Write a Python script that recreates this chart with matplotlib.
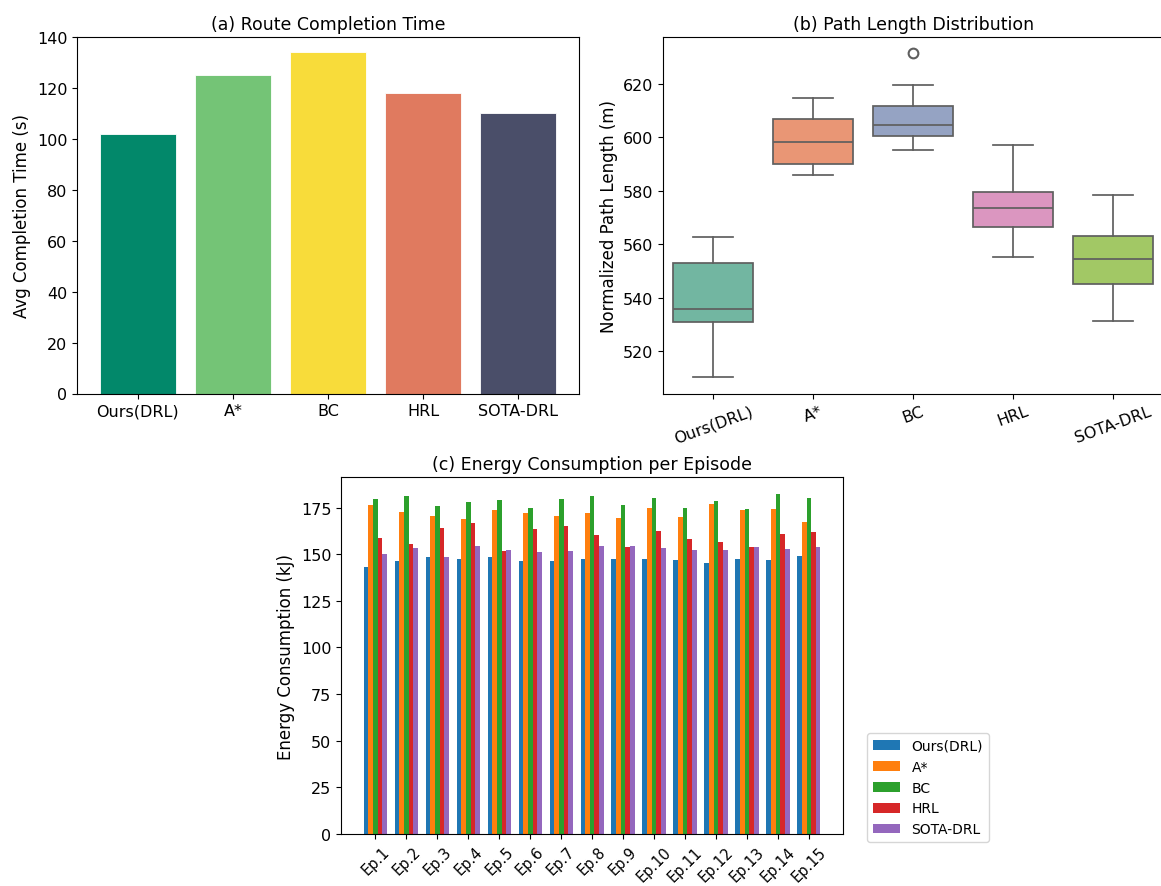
import numpy as np
import matplotlib
matplotlib.use("Agg")
import matplotlib.pyplot as plt
import colorsys
from matplotlib.colors import to_rgb

methods = ["Ours(DRL)", "A*", "BC", "HRL", "SOTA-DRL"]

# (a) average completion time
completion_time = [102, 125, 134, 118, 110]
bar_colors_a = ["#02886a", "#74c476", "#f8dc3a", "#e07a5f", "#4a4e69"]

# (b) box statistics: whislo, q1, med, q3, whishi
box_whislo = [510.1, 585.8, 595.4, 555.1, 531.3]
box_q1 = [531.0, 589.9, 600.6, 566.4, 544.9]
box_med = [535.8, 598.4, 604.8, 573.6, 554.3]
box_q3 = [552.9, 607.1, 611.8, 579.4, 563.0]
box_whishi = [562.6, 614.8, 619.5, 597.3, 578.4]
box_fliers = [[], [], [631.6], [], []]
set2 = ["#66c2a5", "#fc8d62", "#8da0cb", "#e78ac3", "#a6d854"]

# (c) energy consumption per episode
episodes = [f"Ep.{i}" for i in range(1, 16)]
energy_ours = [142.9, 146.4, 148.6, 147.5, 148.6, 146.6, 146.6, 147.3, 147.7, 147.3, 147.1, 145.5, 147.7, 147.1, 149.1]
energy_astar = [176.6, 172.7, 170.4, 169.1, 173.8, 172.3, 170.5, 172.1, 169.5, 174.6, 170.2, 176.8, 173.6, 174.3, 167.5]
energy_bc = [179.5, 181.1, 176.1, 178.2, 178.9, 174.8, 179.8, 181.4, 176.3, 180.0, 174.8, 178.6, 174.1, 182.3, 180.2]
energy_hrl = [158.8, 155.7, 163.9, 166.8, 151.6, 163.8, 165.4, 160.4, 154.1, 162.5, 158.2, 156.6, 153.9, 161.1, 162.1]
energy_sota = [150.0, 153.4, 148.6, 154.5, 152.3, 151.4, 151.6, 154.5, 154.3, 153.4, 152.5, 152.3, 153.8, 152.7, 153.9]
energy_series = [energy_ours, energy_astar, energy_bc, energy_hrl, energy_sota]
tab_colors = ["#1f77b4", "#ff7f0e", "#2ca02c", "#d62728", "#9467bd"]


def desaturate(c, prop=0.75):
    r, g, b = to_rgb(c)
    h, l, s = colorsys.rgb_to_hls(r, g, b)
    return colorsys.hls_to_rgb(h, l, s * prop)


W, H = 1161, 887
fig = plt.figure(figsize=(W / 100, H / 100), dpi=100)
TICK = 11.5
LAB = 12
TIT = 12.5


def ax_px(l, t, r, b):
    return fig.add_axes([l / W, 1 - b / H, (r - l) / W, (b - t) / H])


# ---- (a)
axa = ax_px(77, 38, 579, 394.5)
xa = np.arange(len(methods))
axa.bar(xa, completion_time, color=bar_colors_a, edgecolor="white", linewidth=0.6, width=0.8)
axa.set_xticks(xa)
axa.set_xticklabels(methods)
axa.set_ylabel("Avg Completion Time (s)", fontsize=LAB)
axa.set_title("(a) Route Completion Time", fontsize=TIT)
axa.set_ylim(0, 140)
axa.tick_params(labelsize=TICK)

# ---- (b)
axb = ax_px(663.3, 38, 1163.3, 394.5)
stats = []
for i, m in enumerate(methods):
    stats.append(dict(whislo=box_whislo[i], q1=box_q1[i], med=box_med[i],
                      q3=box_q3[i], whishi=box_whishi[i], fliers=box_fliers[i], label=m))
gray = "#5f5f5f"
bp = axb.bxp(stats, positions=range(len(methods)), widths=0.8, patch_artist=True,
             showfliers=True,
             boxprops=dict(edgecolor=gray, linewidth=1.25),
             medianprops=dict(color=gray, linewidth=1.25),
             whiskerprops=dict(color=gray, linewidth=1.25),
             capprops=dict(color=gray, linewidth=1.25),
             capwidths=0.4,
             flierprops=dict(marker="o", markerfacecolor="none", markeredgecolor=gray,
                             markersize=7, markeredgewidth=1.5))
for patch, c in zip(bp["boxes"], set2):
    patch.set_facecolor(desaturate(c))
axb.set_xlim(-0.5, 4.5)
axb.set_xticks(range(len(methods)))
axb.set_xticklabels(methods, rotation=20)
axb.set_ylabel("Normalized Path Length (m)", fontsize=LAB)
axb.set_title("(b) Path Length Distribution", fontsize=TIT)
axb.tick_params(labelsize=TICK)

# ---- (c)
axc = ax_px(341, 478, 843.3, 835)
xc = np.arange(len(episodes))
bw = 0.15
for k, (vals, m, c) in enumerate(zip(energy_series, methods, tab_colors)):
    axc.bar(xc + (k - 2) * bw, vals, width=bw, color=c, label=m)
axc.set_xticks(xc)
axc.set_xticklabels(episodes, rotation=45)
axc.set_ylabel("Energy Consumption (kJ)", fontsize=LAB)
axc.set_title("(c) Energy Consumption per Episode", fontsize=TIT)
axc.tick_params(axis="y", labelsize=TICK)
axc.tick_params(axis="x", labelsize=10.5)
axc.legend(loc="lower left", bbox_to_anchor=(867 / W, 1 - 843 / H),
           bbox_transform=fig.transFigure, borderaxespad=0, fontsize=10)

fig.savefig("out.png", dpi=100)
